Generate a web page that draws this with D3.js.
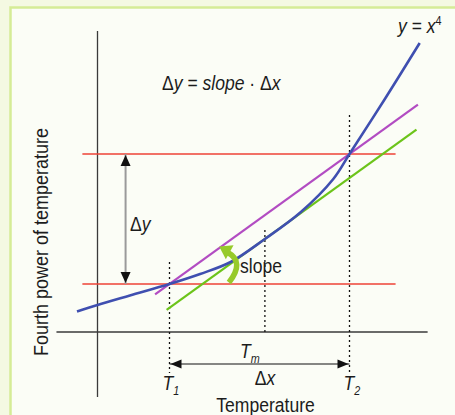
<!DOCTYPE html>
<html><head><meta charset="utf-8">
<script src="https://cdn.jsdelivr.net/npm/d3@7"></script>
<style>
html,body{margin:0;padding:0;background:#f4f9e2;}
svg{display:block;}
text{font-family:"Liberation Sans",Arial,Helvetica,sans-serif;fill:#1c1c1c;}
</style></head><body>
<svg id="chart" width="455" height="415"></svg>
<script>
// Temperature samples along the y = x^4 curve and the fourth-power value at each
const curveTemps = [-0.57, 0, 0.9, 2, 2.85, 3.7, 4.65, 5.65, 6.55, 7, 8, 8.95];
const curvePower = [2.05, 2.7, 3.65, 4.8, 5.8, 7.0, 9.3, 12.0, 15.3, 17.8, 23.4, 28.9];
// Marked temperatures T1, Tm, T2 and their subscripts
const markTemps = [2, 4.65, 7];
const markSubs = ["1", "m", "2"];

const powerAt = t => curvePower[curveTemps.indexOf(t)];
const [T1, Tm, T2] = markTemps;
const y1 = powerAt(T1), y2 = powerAt(T2), yM = powerAt(Tm);
const slope = (y2 - y1) / (T2 - T1);

// layout extents in data units
const axisXExtent = [-1.14, 9.17];
const axisYExtent = [-6.5, 30.1];
const levelExtent = [-0.42, 8.28];
const secantExtent = [1.6, 8.9];
const tangentExtent = [1.92, 8.86];

const svg = d3.select("#chart");
const x = d3.scaleLinear().domain([0, 10]).range([97.5, 457.5]);
const y = d3.scaleLinear().domain([0, 30]).range([332, 32]);

// panel frame
svg.append("rect").attr("x", 10.5).attr("y", 7.5).attr("width", 470).attr("height", 430)
  .attr("fill", "#fbfdf6").attr("stroke", "#d5ec96").attr("stroke-width", 2.5);

const g = svg.append("g");
const line = d3.line().x(d => x(d[0])).y(d => y(d[1]));

// axes (no ticks)
g.append("path").attr("d", line([[axisXExtent[0], 0], [axisXExtent[1], 0]]))
  .attr("stroke", "#3a3a3a").attr("stroke-width", 1.3).attr("fill", "none");
g.append("path").attr("d", line([[0, axisYExtent[0]], [0, axisYExtent[1]]]))
  .attr("stroke", "#3a3a3a").attr("stroke-width", 1.3).attr("fill", "none");

// dotted guides
const dotted = [[T1, 7.0, -4.1], [Tm, 10.2, 0], [T2, 21.7, -4.1]];
dotted.forEach(([t, a, b]) => {
  g.append("path").attr("d", line([[t, a], [t, b]]))
    .attr("stroke", "#111").attr("stroke-width", 1.3).attr("stroke-dasharray", "2,3").attr("fill", "none");
});

// horizontal levels at y(T1) and y(T2)
[y1, y2].forEach(v => {
  g.append("path").attr("d", line([[levelExtent[0], v], [levelExtent[1], v]]))
    .attr("stroke", "#ee4236").attr("stroke-width", 1.6).attr("fill", "none");
});

// secant through (T1, y1) and (T2, y2)
g.append("path").attr("d", line(secantExtent.map(t => [t, y1 + slope * (t - T1)])))
  .attr("stroke", "#b24cc2").attr("stroke-width", 2.2).attr("fill", "none");
// tangent at Tm, parallel to the secant
g.append("path").attr("d", line(tangentExtent.map(t => [t, yM + slope * (t - Tm)])))
  .attr("stroke", "#6cc41a").attr("stroke-width", 2.2).attr("fill", "none");

// the curve
g.append("path")
  .attr("d", d3.line().x(d => x(d[0])).y(d => y(d[1])).curve(d3.curveCatmullRom.alpha(0.5))(curveTemps.map((t, i) => [t, curvePower[i]])))
  .attr("stroke", "#3f4fb0").attr("stroke-width", 2.6).attr("fill", "none");

// arrowhead helper: tip at (tx,ty), pointing along (dx,dy)
function head(tx, ty, dx, dy, len, half, color) {
  const n = Math.hypot(dx, dy); dx /= n; dy /= n;
  const bx = tx - dx * len, by = ty - dy * len;
  g.append("path").attr("d", `M${tx},${ty}L${bx - dy * half},${by + dx * half}L${bx + dy * half},${by - dx * half}Z`)
    .attr("fill", color);
}

// Δy arrow
const ax = 0.78;
g.append("path").attr("d", line([[ax, y2], [ax, y1]]))
  .attr("stroke", "#9a9a9a").attr("stroke-width", 2).attr("fill", "none");
head(x(ax), y(y2) + 1, 0, -1, 11, 5, "#111");
head(x(ax), y(y1) - 1, 0, 1, 11, 5, "#111");

// Δx arrow
const arrowLevel = -3.2;
g.append("path").attr("d", line([[T1, arrowLevel], [T2, arrowLevel]]))
  .attr("stroke", "#111").attr("stroke-width", 1.2).attr("fill", "none");
head(x(T1) + 1, y(arrowLevel), -1, 0, 11, 4.5, "#111");
head(x(T2) - 1, y(arrowLevel), 1, 0, 11, 4.5, "#111");

// curved "slope" arrow between tangent and secant
const s0 = [x(3.65), y(4.95)], sc = [x(4.1), y(7.0)], s1 = [x(3.62), y(7.95)];
g.append("path").attr("d", `M${s0[0]},${s0[1]}Q${sc[0]},${sc[1]} ${s1[0]},${s1[1]}`)
  .attr("stroke", "#97ca2a").attr("stroke-width", 5.5).attr("fill", "none");
head(x(3.38), y(8.55), s1[0] - sc[0], s1[1] - sc[1], 12, 8, "#97ca2a");

// text helper: parts = [[string, {italic, size, dy}]...]
function label(px, py, parts, opts = {}) {
  const gg = svg.append("g").attr("transform", `translate(${px},${py})${opts.rotate ? " rotate(" + opts.rotate + ")" : ""}`);
  const t = gg.append("text").attr("transform", "scale(0.9,1)")
    .attr("text-anchor", opts.anchor || "start").attr("font-size", opts.size || 19.5);
  parts.forEach(([s, o = {}]) => {
    const ts = t.append("tspan").text(s);
    if (o.italic) ts.attr("font-style", "italic");
    if (o.size) ts.attr("font-size", o.size);
    if (o.dy) ts.attr("dy", o.dy);
  });
  return t;
}

label(162, 90, [["Δ"], ["y", {italic: 1}], [" = "], ["slope", {italic: 1}], [" · "], ["Δ"], ["x", {italic: 1}]]);
label(398, 33, [["y", {italic: 1}], [" = "], ["x", {italic: 1}], ["4", {size: 12, dy: -8}]]);
label(48, 242, [["Fourth power of temperature"]], {anchor: "middle", rotate: -90, size: 20});
label(265.5, 412, [["Temperature"]], {anchor: "middle"});
label(130, 231, [["Δ"], ["y", {italic: 1}]]);
label(240, 273, [["slope"]]);
label(265, 385, [["Δ"], ["x", {italic: 1}]], {anchor: "middle"});

// T labels with subscripts
const tLabelPos = [[-7, 390], [-25, 358], [-6, 390]];
markTemps.forEach((t, i) => {
  label(x(t) + tLabelPos[i][0], tLabelPos[i][1], [["T", {italic: 1}], [markSubs[i], {italic: 1, size: 12, dy: 5}]]);
});
</script>
</body></html>
